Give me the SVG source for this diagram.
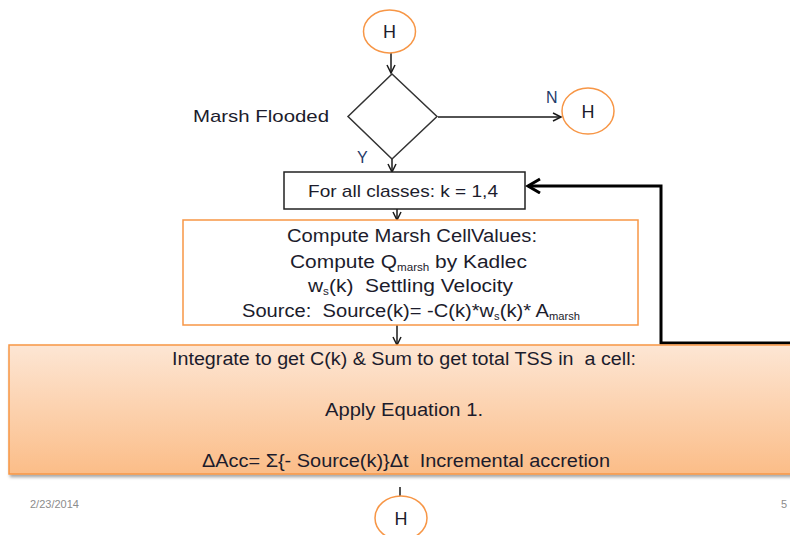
<svg xmlns="http://www.w3.org/2000/svg" width="790" height="535" viewBox="0 0 790 535">
  <style>
    .txt { font-family: "Liberation Sans", Arial, sans-serif; fill: #1c1c2c; white-space: pre; }
    .lbl { font-family: "Liberation Sans", Arial, sans-serif; fill: #1f3a6a; font-size: 16px; }
    .hub { fill: #ffffff; stroke: #f79646; stroke-width: 1.5; }
    .conn { stroke: #1a1a1a; stroke-width: 1.5; fill: none; }
    .loop { stroke: #000000; stroke-width: 3; fill: none; }
    .foot { font-family: "Liberation Sans", Arial, sans-serif; font-size: 11px; fill: #8c8c8c; }
  </style>
  <defs>
    <marker id="arr" markerUnits="userSpaceOnUse" markerWidth="12" markerHeight="12" refX="9" refY="5" orient="auto">
      <path d="M1,1 L9,5 L1,9" fill="none" stroke="#1a1a1a" stroke-width="1.5"/>
    </marker>
    <marker id="arrBig" markerUnits="userSpaceOnUse" markerWidth="18" markerHeight="18" refX="14" refY="8" orient="auto">
      <path d="M2,1 L14,8 L2,15" fill="none" stroke="#000" stroke-width="3"/>
    </marker>
    <linearGradient id="peach" x1="0" y1="0" x2="0" y2="1">
      <stop offset="0" stop-color="#fde6d4"/>
      <stop offset="1" stop-color="#fbbd88"/>
    </linearGradient>
    <filter id="shadow" x="-5%" y="-10%" width="110%" height="130%">
      <feDropShadow dx="1.5" dy="2.5" stdDeviation="1.5" flood-color="#000" flood-opacity="0.35"/>
    </filter>
  </defs>

  <!-- connectors -->
  <g id="connectors">
    <line class="conn" x1="391" y1="53" x2="391" y2="73" marker-end="url(#arr)"/>
    <line class="conn" x1="438" y1="117" x2="561" y2="117" marker-end="url(#arr)"/>
    <line class="conn" x1="392" y1="159" x2="392" y2="172" marker-end="url(#arr)"/>
    <line class="conn" x1="397" y1="209" x2="397" y2="220" marker-end="url(#arr)"/>
    <line class="conn" x1="397" y1="325" x2="397" y2="345" marker-end="url(#arr)"/>
    <polyline class="loop" points="792,343 661,343 661,186 528,186" marker-end="url(#arrBig)"/>
    <line class="conn" x1="400" y1="487" x2="400" y2="506"/>
    <text class="lbl" x="546" y="103">N</text>
    <text class="lbl" x="357" y="163">Y</text>
  </g>

  <g id="hub-top">
    <ellipse class="hub" cx="389.5" cy="31.5" rx="26" ry="21.5"/>
    <text class="txt" x="389.5" y="38" font-size="18" text-anchor="middle">H</text>
  </g>

  <g id="decision">
    <polygon points="392,74 437,116.5 392,159 348,116.5" fill="#ffffff" stroke="#333" stroke-width="1.5"/>
    <text class="txt" x="193" y="122" font-size="17" textLength="136" lengthAdjust="spacingAndGlyphs">Marsh Flooded</text>
  </g>

  <g id="hub-right">
    <ellipse class="hub" cx="588" cy="111" rx="26" ry="23"/>
    <text class="txt" x="588" y="117.5" font-size="18" text-anchor="middle">H</text>
  </g>

  <g id="class-loop">
    <rect x="284" y="172" width="241" height="37" fill="#ffffff" stroke="#222" stroke-width="1.5"/>
    <text class="txt" x="308" y="197" font-size="17" textLength="190" lengthAdjust="spacingAndGlyphs">For all classes: k = 1,4</text>
  </g>

  <g id="marsh-values">
    <rect x="183" y="220" width="455" height="105" fill="#ffffff" stroke="#f79646" stroke-width="1.5"/>
    <text class="txt" x="287" y="242" font-size="18" textLength="250" lengthAdjust="spacingAndGlyphs">Compute Marsh CellValues:</text>
    <text class="txt" x="290" y="268" font-size="18" textLength="237" lengthAdjust="spacingAndGlyphs">Compute Q<tspan font-size="10" dy="3">marsh</tspan><tspan dy="-3"> by Kadlec</tspan></text>
    <text class="txt" x="308" y="292" font-size="18" textLength="205" lengthAdjust="spacingAndGlyphs">w<tspan font-size="10" dy="3">s</tspan><tspan dy="-3">(k)  Settling Velocity</tspan></text>
    <text class="txt" x="242" y="317" font-size="18" textLength="338" lengthAdjust="spacingAndGlyphs">Source:  Source(k)= -C(k)*w<tspan font-size="10" dy="3">s</tspan><tspan dy="-3">(k)* A</tspan><tspan font-size="10" dy="3">marsh</tspan></text>
  </g>

  <g id="integrate">
    <rect x="9" y="345" width="800" height="129" fill="url(#peach)" stroke="#f79646" stroke-width="1.5" filter="url(#shadow)"/>
    <text class="txt" x="172" y="365" font-size="18" textLength="464" lengthAdjust="spacingAndGlyphs">Integrate to get C(k) &amp; Sum to get total TSS in  a cell:</text>
    <text class="txt" x="325" y="416" font-size="18" textLength="158" lengthAdjust="spacingAndGlyphs">Apply Equation 1.</text>
    <text class="txt" x="202" y="467" font-size="18" textLength="408" lengthAdjust="spacingAndGlyphs">ΔAcc= Σ{- Source(k)}Δt  Incremental accretion</text>
  </g>

  <g id="hub-bottom">
    <ellipse class="hub" cx="401" cy="518" rx="26" ry="22"/>
    <text class="txt" x="401" y="525" font-size="18" text-anchor="middle">H</text>
  </g>

  <g id="footer">
    <text class="foot" x="30" y="508">2/23/2014</text>
    <text class="foot" x="781" y="508">5</text>
  </g>
</svg>
